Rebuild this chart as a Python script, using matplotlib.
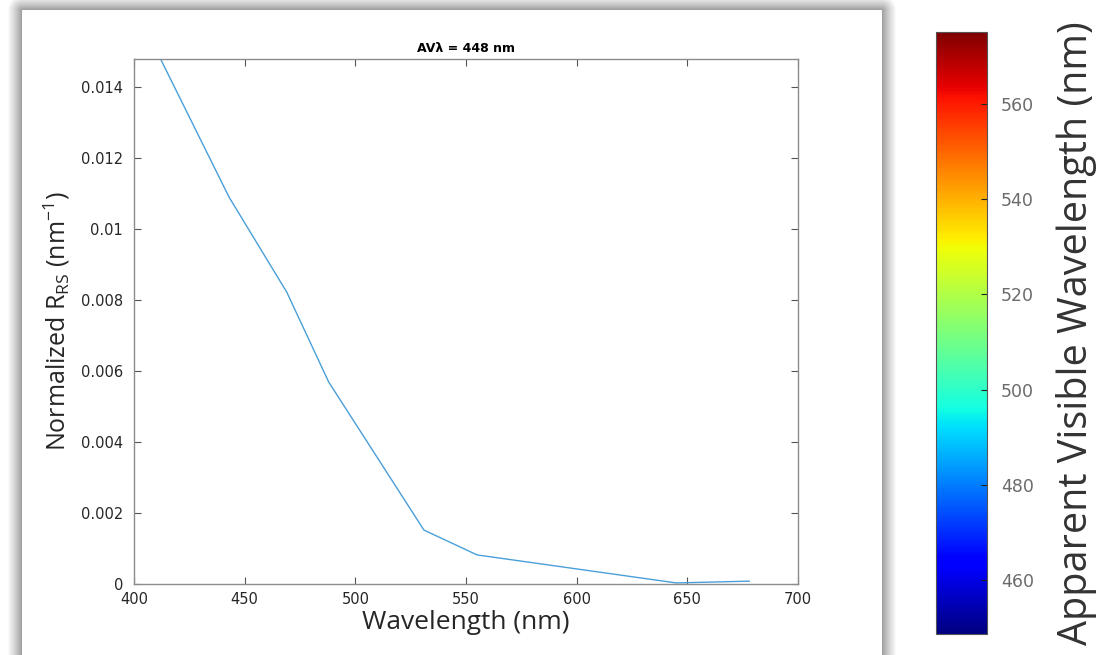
import matplotlib
matplotlib.use("Agg")
import matplotlib.pyplot as plt
import matplotlib as mpl
import numpy as np

# band centres (nm) and normalized Rrs
wavelength = [412, 443, 469, 488, 531, 555, 645, 678]
rrs_norm = [0.0148, 0.0109, 0.00823, 0.00569, 0.00152, 0.00082, 0.00003, 0.00008]

x_ticks = [400, 450, 500, 550, 600, 650, 700]
y_ticks = [0, 0.002, 0.004, 0.006, 0.008, 0.01, 0.012, 0.014]
y_ticklabels = ["0", "0.002", "0.004", "0.006", "0.008", "0.01", "0.012", "0.014"]
cbar_ticks = [460, 480, 500, 520, 540, 560]
cbar_range = (448.6, 575.2)
av_lambda = 448

W, H = 1120, 655
fig = plt.figure(figsize=(W / 100, H / 100), dpi=100)

# white panel with soft drop shadow behind the plot
bg = fig.add_axes([0, 0, 1, 1], zorder=-5)
yy, xx = np.mgrid[0:H, 0:W]
px0, px1, py0 = 22, 881, 10
dx = np.maximum(np.maximum(px0 - xx, xx - px1), 0)
dy = np.maximum(py0 - yy, 0)
d = np.hypot(dx, dy)
shade = np.where(d == 0, 1.0, 0.58 + 0.42 * np.clip(d / 15.0, 0, 1) ** 0.8)
bg.imshow(np.dstack([shade] * 3), aspect="auto", interpolation="bilinear")
bg.axis("off")

ax = fig.add_axes([134 / W, 1 - 584 / H, (798 - 134) / W, (584 - 59) / H])
ax.plot(wavelength, rrs_norm, color="#4a9fd8", lw=1.0)
ax.set_xlim(400, 700)
ax.set_ylim(0, 0.0148)
ax.set_xticks(x_ticks)
ax.set_yticks(y_ticks)
ax.set_yticklabels(y_ticklabels)
ax.tick_params(direction="in", top=True, right=True, length=5, width=0.8,
               color="#555555", labelsize=10.5, labelcolor="#262626")
ax.tick_params(axis="y", pad=8)
ax.tick_params(axis="x", pad=6)
for s in ax.spines.values():
    s.set_color("#8c8c8c")
    s.set_linewidth(1.0)
ax.set_xlabel("Wavelength (nm)", fontsize=19, family="Open Sans", color="#262626", labelpad=2)
ax.set_ylabel(r"Normalized R$_{\mathregular{RS}}$ (nm$^{\mathregular{-1}}$)", fontsize=18,
              family="Open Sans", color="#262626", labelpad=6)
ax.set_title("AV\u03bb = %d nm" % av_lambda, fontsize=9, fontweight="bold", pad=5)

# colour bar for apparent visible wavelength
cax = fig.add_axes([936 / W, 1 - 634 / H, (987 - 936) / W, (634 - 32) / H])
norm = mpl.colors.Normalize(vmin=cbar_range[0], vmax=cbar_range[1])
cb = mpl.colorbar.ColorbarBase(cax, cmap=mpl.colormaps["jet"], norm=norm, orientation="vertical")
cb.set_ticks(cbar_ticks)
cb.outline.set_edgecolor("#555555")
cb.outline.set_linewidth(0.8)
cax.tick_params(direction="in", length=4, color="#222222", labelsize=12.5,
                labelcolor="#6b6b6b", pad=10)
for t in cax.get_yticklabels():
    t.set_family("DejaVu Sans")
cb.set_label("Apparent Visible Wavelength (nm)", fontsize=28.5, family="Open Sans",
             color="#333333")
cax.yaxis.set_label_coords((1056 - 936) / 51, 0.5)

fig.savefig("out.png", dpi=100)
